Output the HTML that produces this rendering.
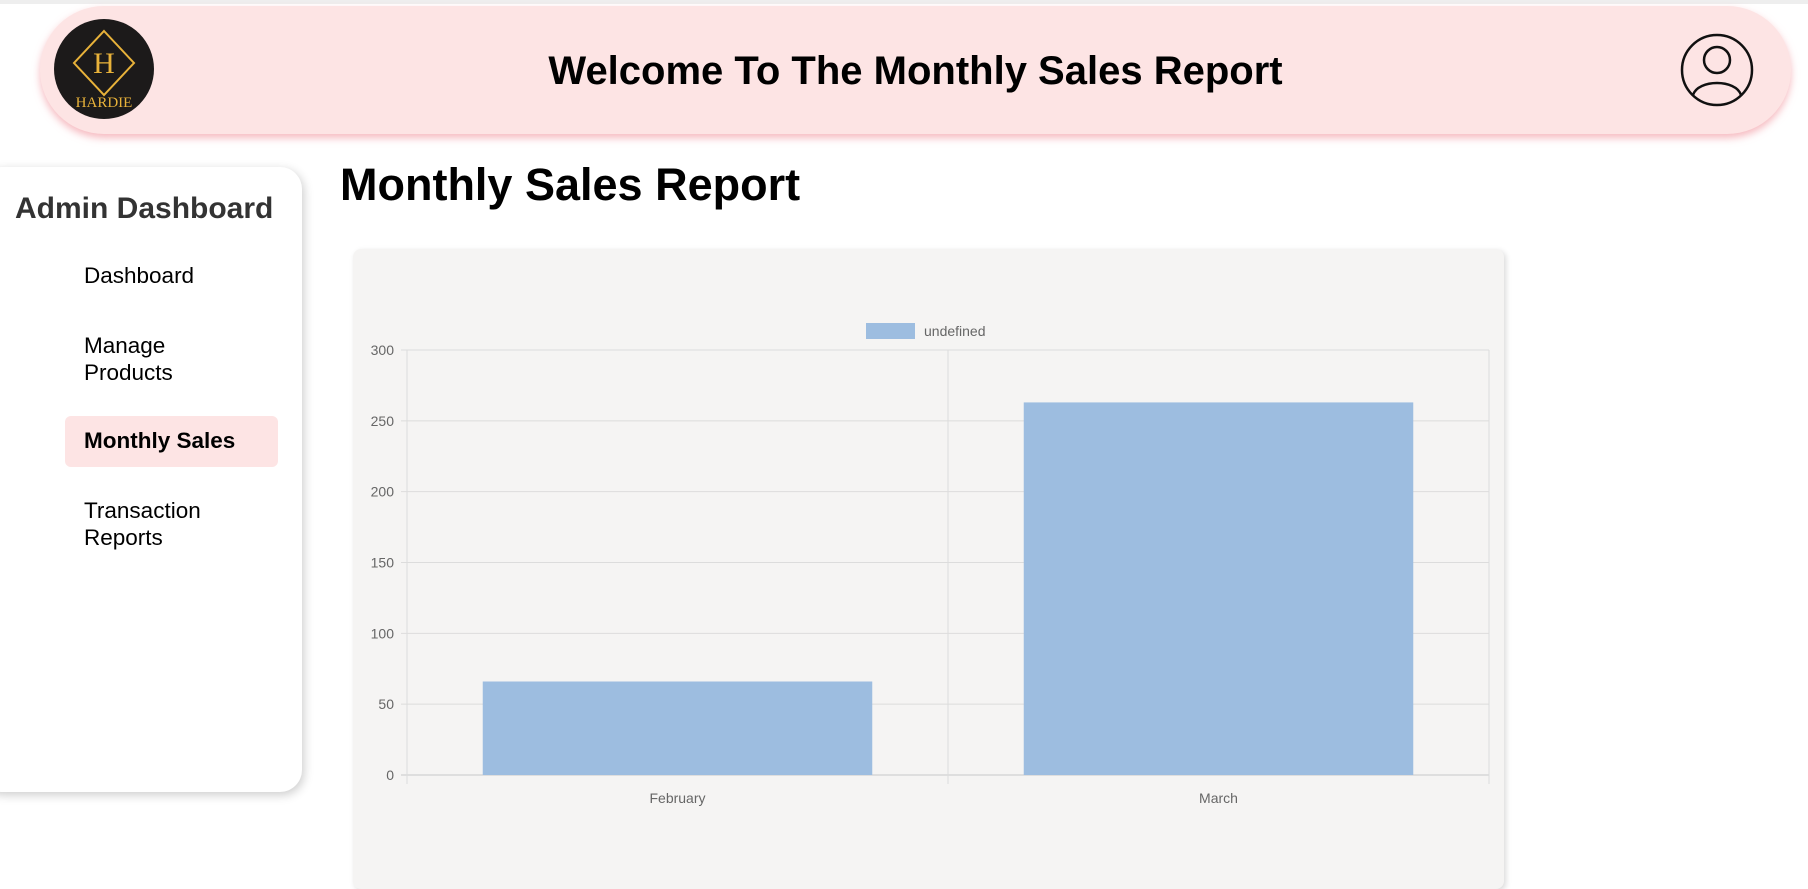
<!DOCTYPE html>
<html><head><meta charset="utf-8"><style>
body{margin:0;width:1808px;height:867px;overflow:hidden;background:#fff;font-family:"Liberation Sans",sans-serif;position:relative}
.abs{position:absolute}
</style></head><body>
<div class="abs" style="left:0;top:0;width:1808px;height:4px;background:#eee"></div>
<div class="abs" style="left:40px;top:6px;width:1751px;height:128px;background:#fde4e4;border-radius:64px;box-shadow:0 4px 8px rgba(240,140,150,0.6)">
  <div class="abs" style="left:14px;top:13px;width:100px;height:100px;border-radius:50%;background:#1c1a1a;overflow:hidden">
    <svg width="100" height="100"><polygon points="50,12 80,44 50,76 20,44" fill="none" stroke="#e8b23a" stroke-width="2"/><text x="50" y="54" text-anchor="middle" font-family="Liberation Serif" font-size="30" fill="#e8b23a">H</text><text x="50" y="88" text-anchor="middle" font-family="Liberation Serif" font-size="15" fill="#e8b23a">HARDIE</text></svg>
  </div>
  <div class="abs" style="left:0;width:1751px;top:43px;text-align:center;font-size:40px;font-weight:bold;color:#000">Welcome To The Monthly Sales Report</div>
  <svg class="abs" style="left:1640px;top:27px" width="74" height="74"><circle cx="37" cy="37" r="35" fill="none" stroke="#111" stroke-width="2.5"/><circle cx="37" cy="27" r="13" fill="none" stroke="#111" stroke-width="2.5"/><path d="M13,62 C18,46 56,46 61,62" fill="none" stroke="#111" stroke-width="2.5"/></svg>
</div>
<div class="abs" style="left:-20px;top:167px;width:322px;height:625px;background:#fff;border-radius:22px;box-shadow:2px 3px 10px rgba(0,0,0,0.2)"></div>
<div class="abs" style="left:15px;top:192px;font-size:30px;font-weight:bold;color:#333">Admin Dashboard</div>
<div class="abs" style="left:84px;top:263px;font-size:22.5px">Dashboard</div>
<div class="abs" style="left:84px;top:332px;font-size:22.5px;line-height:27px">Manage<br>Products</div>
<div class="abs" style="left:65px;top:416px;width:213px;height:51px;background:#fde4e4;border-radius:6px"></div>
<div class="abs" style="left:84px;top:428px;font-size:22.5px;font-weight:bold">Monthly Sales</div>
<div class="abs" style="left:84px;top:497px;font-size:22.5px;line-height:27px">Transaction<br>Reports</div>
<div class="abs" style="left:340px;top:159px;font-size:45px;font-weight:bold">Monthly Sales Report</div>
<div class="abs" style="left:353px;top:249px;width:1151px;height:640px;background:#f5f4f3;border-radius:8px;box-shadow:2px 2px 6px rgba(0,0,0,0.15)"></div>
<svg class="abs" id="chart" style="left:0;top:0" width="1808" height="867"></svg>
<script>
const categories=["February","March"];
const values=[66,263];
const yTicks=[0,50,100,150,200,250,300];
const legendLabel="undefined";
const svg=document.getElementById('chart');
const NS='http://www.w3.org/2000/svg';
const L=407,R=1489,T=350,B=775,yMax=300;
const y=v=>B-(v/yMax)*(B-T);
const cw=(R-L)/categories.length;
const x=i=>L+cw*i;
function el(t,a,txt){const e=document.createElementNS(NS,t);for(const k in a)e.setAttribute(k,a[k]);if(txt!=null)e.textContent=txt;svg.appendChild(e);return e;}
yTicks.forEach(t=>{
  const g=el('line',{x1:L-6,x2:R,y1:y(t),y2:y(t),stroke:t===0?'#c8c8c8':'#dcdcdc','stroke-width':1});
  
  
  const lb=el('text',{x:L-13,y:y(t)+5,'text-anchor':'end','font-size':14,fill:'#666','font-family':'Liberation Sans'},t);
  
  
});
for(let i=0;i<=categories.length;i++){
  const g=el('line',{x1:x(i),x2:x(i),y1:T,y2:B+9,stroke:'#dcdcdc','stroke-width':1});
  
  
}
categories.forEach((c,i)=>{
  const bw=cw*0.72;
  const b=el('rect',{x:x(i)+(cw-bw)/2,y:y(values[i]),width:bw,height:B-y(values[i]),fill:'#9dbde0'});
  
  
  const lb=el('text',{x:x(i)+cw/2,y:B+28,'text-anchor':'middle','font-size':14,fill:'#666','font-family':'Liberation Sans'},c);
  
  
});
const lr=el('rect',{x:866,y:323,width:49,height:16,fill:'#9dbde0'});


const lt=el('text',{x:924,y:336,'font-size':14,fill:'#666','font-family':'Liberation Sans'},legendLabel);


</script>
</body></html>
